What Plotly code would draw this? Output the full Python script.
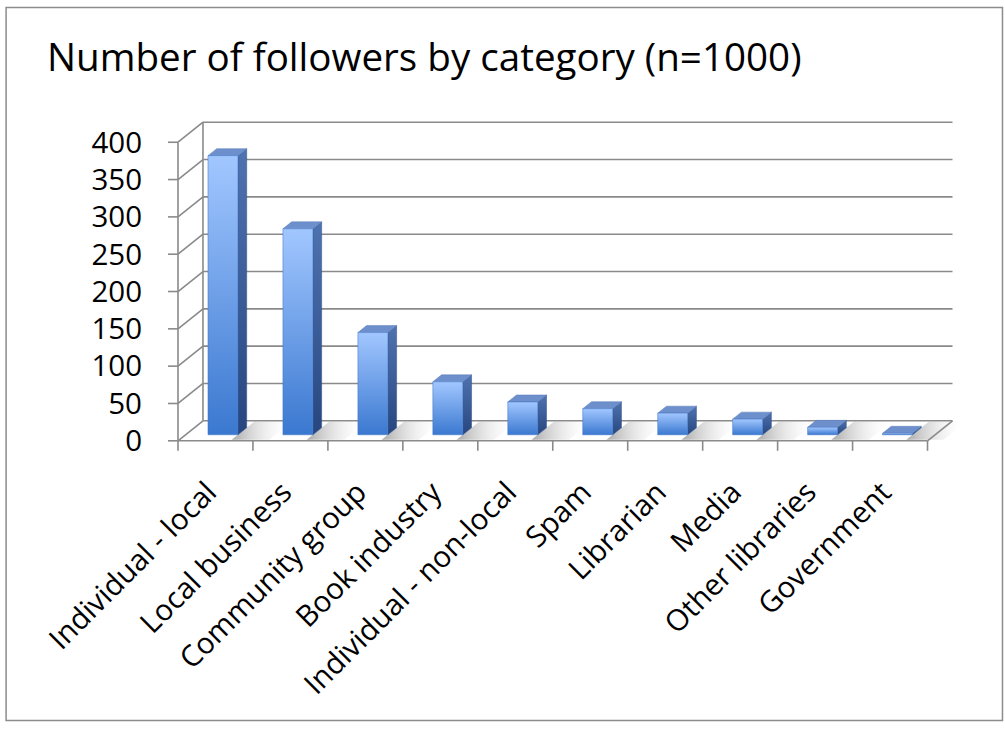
import plotly.graph_objects as go

# ---- data ----
categories = ["Individual - local", "Local business", "Community group", "Book industry",
              "Individual - non-local", "Spam", "Librarian", "Media", "Other libraries", "Government"]
followers = [374, 276, 137, 71, 44, 35, 29, 21, 10, 2]
y_ticks = [0, 50, 100, 150, 200, 250, 300, 350, 400]

# ---- oblique 3-D projection parameters (axis units) ----
DX = 1 / 3      # x shift (categories) per unit of depth
DY = 26.8       # y shift (value units) per unit of depth
Z_FRONT, Z_BACK = 0.30, 0.65
HALF_W = 0.20
N = len(categories)
VMAX = y_ticks[-1]

# pixel geometry of the front axes
PX0, PY0 = 178, 441          # origin (cat 0, value 0) in pixels
PX_PER_CAT, PX_PER_VAL = 75.0, 0.7475
W, H = 1005, 729
XR = [-0.2, N + DX + 0.1]
YR = [-15, VMAX + DY + 3]
m_l = PX0 + XR[0] * PX_PER_CAT
m_r = W - (PX0 + XR[1] * PX_PER_CAT)
m_t = PY0 - YR[1] * PX_PER_VAL
m_b = H - (PY0 - YR[0] * PX_PER_VAL)

GRID = "#8a8a8a"
fig = go.Figure()

# ---- floor shadows (to the right of each column) ----
dz = Z_BACK - Z_FRONT
for i, v in enumerate(followers):
    xr = i + 0.5 + HALF_W + Z_FRONT * DX
    z0, z1 = 0.05, 0.95
    x0 = xr - Z_FRONT * DX
    pts = [(x0 + z0 * DX, z0 * DY), (x0 + 0.5 + z0 * DX, z0 * DY),
           (x0 + 0.5 + z1 * DX, z1 * DY), (x0 + z1 * DX, z1 * DY)]
    sx = [p[0] for p in pts] + [pts[0][0]]
    sy = [p[1] for p in pts] + [pts[0][1]]
    fig.add_trace(go.Scatter(
        x=sx, y=sy, mode="lines", fill="toself", line=dict(width=0),
        fillgradient=dict(type="horizontal",
                          colorscale=[[0, "rgba(140,140,140,0.75)"], [0.5, "rgba(200,200,200,0.4)"],
                                      [1, "rgba(255,255,255,0)"]]),
        hoverinfo="skip", showlegend=False))

# ---- walls / grid ----
gx, gy = [], []
for t in y_ticks:
    gx += [DX, N + DX, None]; gy += [t + DY, t + DY, None]          # back wall lines
    gx += [0, DX, None]; gy += [t, t + DY, None]                    # side wall diagonals
gx += [DX, DX, None]; gy += [DY, VMAX + DY, None]                   # back wall left edge
gx += [0, 0, None]; gy += [0, VMAX, None]                           # front value axis
gx += [0, N, None]; gy += [0, 0, None]                              # front category axis
gx += [N, N + DX, None]; gy += [0, DY, None]                        # floor right edge
# tick marks
tick_dx = 10 / PX_PER_CAT
tick_dy = 10 / PX_PER_VAL
for t in y_ticks:
    gx += [-tick_dx, 0, None]; gy += [t, t, None]
for k in range(N + 1):
    gx += [k, k, None]; gy += [0, -tick_dy, None]
fig.add_trace(go.Scatter(x=gx, y=gy, mode="lines", line=dict(color=GRID, width=1.6),
                         hoverinfo="skip", showlegend=False))

# ---- 3-D columns ----
for i, v in enumerate(followers):
    xl = i + 0.5 - HALF_W + Z_FRONT * DX
    xr = i + 0.5 + HALF_W + Z_FRONT * DX
    yb = Z_FRONT * DY
    yt = yb + v
    # side face
    fig.add_trace(go.Scatter(
        x=[xr, xr, xr + dz * DX, xr + dz * DX, xr],
        y=[yb, yt, yt + dz * DY, yb + dz * DY, yb],
        mode="lines", fill="toself", line=dict(width=0.5, color="#2f4f86"),
        fillgradient=dict(type="vertical", colorscale=[[0, "#27467f"], [1, "#4f73b0"]]),
        hoverinfo="skip", showlegend=False))
    # top face
    fig.add_trace(go.Scatter(
        x=[xl, xr, xr + dz * DX, xl + dz * DX, xl],
        y=[yt, yt, yt + dz * DY, yt + dz * DY, yt],
        mode="lines", fill="toself", line=dict(width=0.5, color="#5a7fbf"),
        fillcolor="#6d8fcb", hoverinfo="skip", showlegend=False))
    # front face
    fig.add_trace(go.Scatter(
        x=[xl, xr, xr, xl, xl],
        y=[yb, yb, yt, yt, yb],
        mode="lines", fill="toself", line=dict(width=0.5, color="#3d74c4"),
        fillgradient=dict(type="vertical", colorscale=[[0, "#3a78d0"], [1, "#a2c7ff"]]),
        name=categories[i], hovertemplate=f"{categories[i]}: {v}<extra></extra>",
        showlegend=False))

FONT = "'Open Sans', sans-serif"
LABEL_SHIFT = -0.1   # category labels sit slightly left of the category centre
fig.update_layout(
    width=W, height=H, autosize=False,
    margin=dict(l=m_l, r=m_r, t=m_t, b=m_b, pad=0),
    paper_bgcolor="white", plot_bgcolor="rgba(0,0,0,0)",
    showlegend=False,
    title=dict(text="Number of followers by category (n=1000)", x=47 / W, xanchor="left",
               xref="container", yref="container", y=1 - 57 / H, yanchor="middle",
               font=dict(family=FONT, size=38.6, color="black")),
    xaxis=dict(range=XR, showgrid=False, zeroline=False, showline=False, ticks="",
               tickmode="array", tickvals=[i + 0.5 + LABEL_SHIFT for i in range(N)], ticktext=categories,
               tickangle=-45, tickfont=dict(family=FONT, size=29.5, color="black"),
               ticklabelstandoff=16, fixedrange=True),
    yaxis=dict(range=YR, showgrid=False, zeroline=False, showline=False, ticks="",
               tickmode="array", tickvals=y_ticks, ticktext=[str(t) for t in y_ticks],
               tickfont=dict(family=FONT, size=29.5, color="black"),
               ticklabelstandoff=20, fixedrange=True),
    shapes=[dict(type="rect", xref="paper", yref="paper",
                 x0=(6 - m_l) / (W - m_l - m_r), x1=(1003 - m_l) / (W - m_l - m_r),
                 y0=1 - (721 - m_t) / (H - m_t - m_b), y1=1 - (7 - m_t) / (H - m_t - m_b),
                 line=dict(color="#8c8c8c", width=1.5), layer="below")],
)

fig.write_html("out.html", config={"displayModeBar": False},
               post_script="document.body.style.margin='0px';")
